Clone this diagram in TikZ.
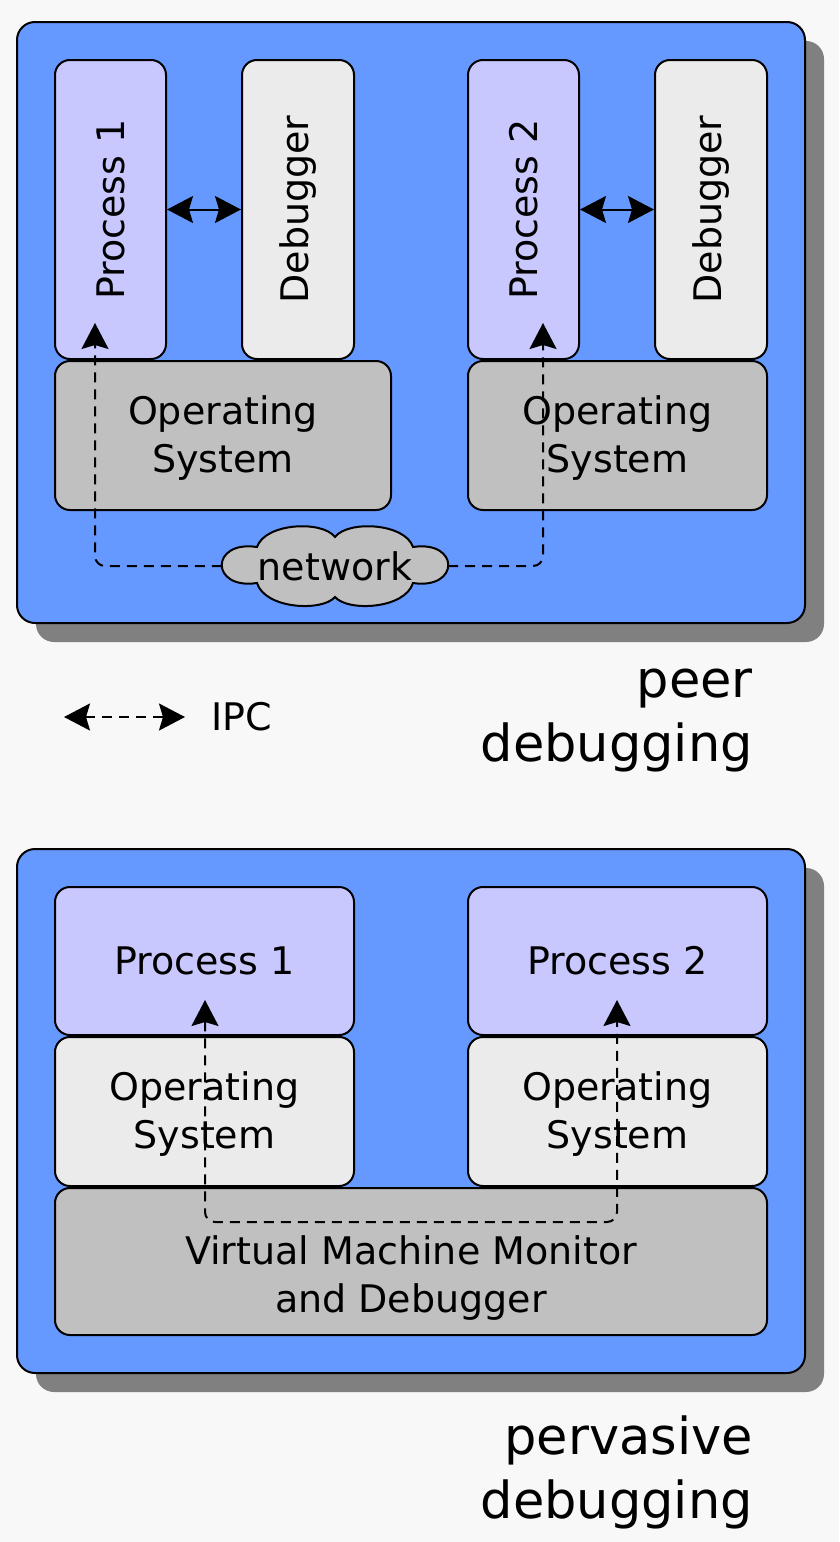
\documentclass[tikz,border=0pt]{standalone}
\usepackage{fontspec}
\setmainfont{DejaVu Sans}
\usetikzlibrary{arrows.meta}
\definecolor{bgpaper}{HTML}{F8F8F8}
\definecolor{hostblue}{HTML}{6699FF}
\definecolor{procfill}{HTML}{C8C8FF}
\definecolor{dbgfill}{HTML}{EBEBEB}
\definecolor{osfill}{HTML}{C0C0C0}
\definecolor{shadowgray}{HTML}{808080}
\tikzset{
  host/.style={draw=black, line width=2pt, fill=hostblue, rounded corners=18pt},
  hostshadow/.style={fill=shadowgray, rounded corners=18pt},
  layer/.style={draw=black, line width=2pt, rounded corners=15pt, inner sep=0pt,
    align=center, font=\fontsize{38}{48}\selectfont},
  proc/.style={layer, fill=procfill},
  dbg/.style={layer, fill=dbgfill},
  ossys/.style={layer, fill=osfill},
  bigtip/.tip={Stealth[length=26pt, width=27pt, inset=4pt]},
  direct/.style={line width=2pt, bigtip-bigtip},
  ipc/.style={line width=2pt, dash pattern=on 10pt off 7pt, rounded corners=10pt},
  caption/.style={anchor=north east, align=right, inner sep=0pt,
    font=\fontsize{51}{64}\selectfont},
}
\begin{document}
\begin{tikzpicture}[x=1pt, y=-1pt]
  \useasboundingbox[fill=bgpaper] (0,0) rectangle (839,1542);

  % ---------- peer debugging ----------
  \fill[hostshadow] (36,41) rectangle (824,642);
  \draw[host] (17,22) rectangle (805,623);

  \node[proc, minimum width=111pt, minimum height=299pt] (p1) at (110.5,209.5) {\rotatebox{90}{Process 1}};
  \node[dbg,  minimum width=112pt, minimum height=299pt] (d1) at (298,209.5) {\rotatebox{90}{Debugger}};
  \node[ossys, minimum width=336pt, minimum height=149pt] (os1) at (223,435.5) {\rule{0pt}{34pt}Operating\\System};

  \node[proc, minimum width=111pt, minimum height=299pt] (p2) at (523.5,209.5) {\rotatebox{90}{Process 2}};
  \node[dbg,  minimum width=112pt, minimum height=299pt] (d2) at (711,209.5) {\rotatebox{90}{Debugger}};
  \node[ossys, minimum width=299pt, minimum height=149pt] (os2) at (617.5,435.5) {\rule{0pt}{34pt}Operating\\System};

  \draw[direct] (p1.east) -- (d1.west);
  \draw[direct] (p2.east) -- (d2.west);

  % network cloud: two puffs on top, two below, a small one at each side
  \draw[line width=2pt, fill=osfill]
    (257,547) .. controls (265,523) and (322,520) .. (335,537)
              .. controls (348,520) and (405,523) .. (413,547)
              .. controls (460,540) and (460,590) .. (413,583)
              .. controls (405,609) and (348,612) .. (335,597)
              .. controls (322,612) and (265,609) .. (257,583)
              .. controls (210,590) and (210,540) .. (257,547) -- cycle;
  \node[minimum width=226pt, minimum height=78pt, inner sep=0pt,
        font=\fontsize{38}{48}\selectfont] (net) at (335,566) {network};

  \coordinate (t1) at (95,323);
  \coordinate (t2) at (543,323);
  \draw[ipc, -bigtip] (net.west) -| (t1);
  \draw[ipc, -bigtip] (net.east) -| (t2);

  % legend
  \coordinate (la) at (64,717);
  \coordinate (lb) at (185,717);
  \draw[ipc, bigtip-bigtip] (la) -- (lb);
  \node[anchor=west, inner sep=0pt, font=\fontsize{38}{48}\selectfont] (ipclabel) at (211,717) {IPC};

  \node[caption] (peer) at (753,669) {peer\\debugging};

  % ---------- pervasive debugging ----------
  \fill[hostshadow] (36,868) rectangle (824,1392);
  \draw[host] (17,849) rectangle (805,1373);

  \node[proc, minimum width=299pt, minimum height=148pt] (q1) at (204.5,961) {Process 1};
  \node[proc, minimum width=299pt, minimum height=148pt] (q2) at (617.5,961) {Process 2};
  \node[dbg, minimum width=299pt, minimum height=149pt] (g1) at (204.5,1111.5) {\rule{0pt}{34pt}Operating\\System};
  \node[dbg, minimum width=299pt, minimum height=149pt] (g2) at (617.5,1111.5) {\rule{0pt}{34pt}Operating\\System};
  \node[ossys, minimum width=712pt, minimum height=147pt] (vmm) at (411,1261.5)
    {\rule{0pt}{62pt}Virtual Machine Monitor\\and Debugger};

  \coordinate (b1) at (205,1000);
  \coordinate (b2) at (617,1000);
  \coordinate (bc) at (617,1222);
  \draw[ipc, bigtip-bigtip] (b1) |- (bc) -- (b2);

  \node[caption] (perv) at (753,1416) {pervasive\\debugging};
\end{tikzpicture}
\end{document}
